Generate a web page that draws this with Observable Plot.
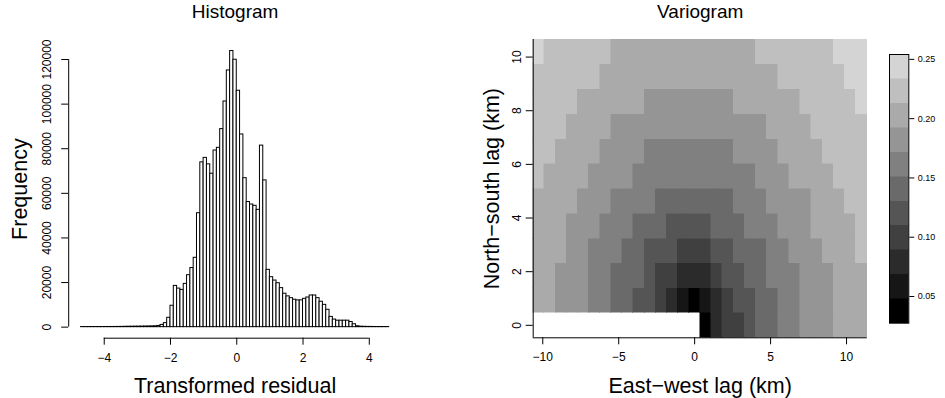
<!DOCTYPE html>
<html><head><meta charset="utf-8">
<script src="https://cdn.jsdelivr.net/npm/d3@7"></script>
<script src="https://cdn.jsdelivr.net/npm/@observablehq/plot@0.6"></script>
<style>
body{margin:0;background:#fff;}
#root{position:relative;width:945px;height:398px;}
#root svg{position:absolute;top:0;}
</style></head><body><div id="root"></div>
<script>
// ---------- Histogram data ----------
const histBinStart = -4.7;
const histBinWidth = 0.1;
const histCounts = [
  40,40,50,50,50,60,60,70,70,80,90,100,            // -4.7 .. -3.6
  120,150,180,200,220,230,250,280,300,330,380,     // -3.5 .. -2.5
  550,1000,1800,4200,9600,                          // -2.4 .. -2.0
  18500,17300,16700,19400,23300,26500,31100,51100,73900,75900, // -1.9 .. -1.0
  73000,68800,79200,80400,88800,101200,115100,123800,119900,   // -0.9 .. -0.1
  106000,86400,66800,56100,55000,54400,52600,81400,65800,25700, // 0.0 .. 0.9
  22400,20900,19700,17500,15000,13800,13000,12300,12000,12000,  // 1.0 .. 1.9
  12700,13300,14200,14200,13000,11400,10000,7800,4600,3400,     // 2.0 .. 2.9
  2900,2900,2900,2900,2300,1300,400,200,150,120,                // 3.0 .. 3.9
  100,80,70,60,50,40                                            // 4.0 .. 4.5
];
const histXTicks = [-4, -2, 0, 2, 4];
const histYTicks = [0, 20000, 40000, 60000, 80000, 100000, 120000];

// ---------- Variogram data ----------
const eastLags = [-10.26,-9.52,-8.79,-8.06,-7.33,-6.59,-5.86,-5.13,-4.40,-3.66,-2.93,-2.20,-1.47,-0.73,0,
                  0.73,1.47,2.20,2.93,3.66,4.40,5.13,5.86,6.59,7.33,8.06,8.79,9.52,10.26,10.99];
const northLags = [0,0.93,1.85,2.78,3.70,4.63,5.56,6.48,7.41,8.33,9.26,10.19];
const N = null;
const semivariance = [ // rows: north lag 0 (bottom) .. top; columns: east lags
  [N,N,N,N,N,N,N,N,N,N,N,N,N,N,N,.04,.08,.10,.10,.12,.14,.14,.16,.16,.18,.18,.18,.20,.20,.20],
  [.20,.20,.18,.18,.18,.16,.16,.14,.14,.12,.12,.10,.08,.06,.04,.06,.08,.10,.12,.12,.14,.14,.16,.16,.18,.18,.18,.20,.20,.20],
  [.20,.20,.18,.18,.18,.16,.16,.14,.14,.14,.12,.10,.10,.08,.08,.08,.10,.12,.12,.14,.14,.16,.16,.16,.18,.18,.18,.20,.20,.20],
  [.20,.20,.20,.18,.18,.16,.16,.16,.14,.14,.12,.12,.12,.10,.10,.10,.12,.12,.14,.14,.14,.16,.16,.18,.18,.18,.20,.20,.20,.22],
  [.20,.20,.20,.18,.18,.18,.16,.16,.16,.14,.14,.14,.12,.12,.12,.12,.14,.14,.14,.16,.16,.16,.18,.18,.18,.20,.20,.20,.20,.22],
  [.20,.20,.20,.20,.18,.18,.18,.16,.16,.16,.16,.14,.14,.14,.14,.14,.14,.14,.16,.16,.16,.18,.18,.18,.18,.20,.20,.20,.22,.22],
  [.22,.20,.20,.20,.20,.18,.18,.18,.18,.16,.16,.16,.16,.16,.16,.16,.16,.16,.16,.16,.18,.18,.18,.20,.20,.20,.20,.22,.22,.22],
  [.22,.22,.20,.20,.20,.20,.18,.18,.18,.18,.16,.16,.16,.16,.16,.16,.16,.16,.18,.18,.18,.18,.20,.20,.20,.20,.22,.22,.22,.22],
  [.22,.22,.22,.20,.20,.20,.20,.18,.18,.18,.18,.18,.18,.18,.18,.18,.18,.18,.18,.18,.18,.20,.20,.20,.20,.22,.22,.22,.22,.22],
  [.22,.22,.22,.22,.20,.20,.20,.20,.20,.20,.18,.18,.18,.18,.18,.18,.18,.18,.20,.20,.20,.20,.20,.20,.22,.22,.22,.22,.22,.24],
  [.22,.22,.22,.22,.22,.22,.20,.20,.20,.20,.20,.20,.20,.20,.20,.20,.20,.20,.20,.20,.20,.20,.22,.22,.22,.22,.22,.22,.24,.24],
  [.24,.22,.22,.22,.22,.22,.22,.20,.20,.20,.20,.20,.20,.20,.20,.20,.20,.20,.20,.20,.22,.22,.22,.22,.22,.22,.22,.24,.24,.24]
];
const varioXTicks = [-10, -5, 0, 5, 10];
const varioYTicks = [0, 2, 4, 6, 8, 10];
const zBreaks = [0.0275,0.0481,0.0687,0.0893,0.1099,0.1305,0.1511,0.1717,0.1923,0.2129,0.2335,0.2541];
const legendTicks = [0.05, 0.10, 0.15, 0.20, 0.25];
const grays = ["#000000","#161616","#2b2b2b","#404040","#555555","#6a6a6a","#808080","#959595","#aaaaaa","#bfbfbf","#d4d4d4"];

const FONT = "'Liberation Sans', Arial, Helvetica, sans-serif";
const style = {fontFamily: FONT, fontSize: "12px", background: "transparent", overflow: "visible"};
const root = document.getElementById("root");
function place(svg, left) { svg.style.left = left + "px"; root.appendChild(svg); }

// ---------- Histogram panel ----------
const histData = histCounts.map((c, i) => ({
  x1: histBinStart + i * histBinWidth,
  x2: histBinStart + (i + 1) * histBinWidth,
  count: c
}));
const hxMin = histBinStart, hxMax = histBinStart + histCounts.length * histBinWidth;
const hx = [hxMin - 0.04 * (hxMax - hxMin), hxMax + 0.04 * (hxMax - hxMin)];
const hMax = d3.max(histCounts);
const hy = [-0.04 * hMax, 1.04 * hMax];

const hist = Plot.plot({
  width: 472, height: 398,
  marginLeft: 68.2, marginRight: 71, marginTop: 39.5, marginBottom: 60.3,
  x: {domain: hx, axis: null},
  y: {domain: hy, axis: null},
  style,
  marks: [
    Plot.rect(histData, {x1: "x1", x2: "x2", y1: 0, y2: "count", fill: "white", stroke: "black", strokeWidth: 1}),
    Plot.ruleY([hy[0]], {x1: histXTicks[0], x2: histXTicks[histXTicks.length - 1], stroke: "black"}),
    Plot.ruleX([hx[0]], {y1: histYTicks[0], y2: histYTicks[histYTicks.length - 1], stroke: "black"}),
    Plot.axisX(histXTicks, {anchor: "bottom", tickSize: 7, tickPadding: 8, fontSize: 12, label: null}),
    Plot.axisY(histYTicks, {anchor: "left", tickSize: 7, tickFormat: () => "", label: null}),
    Plot.text(histYTicks, {y: d => d, text: d => String(d), frameAnchor: "left", dx: -17.5, rotate: -90,
      lineAnchor: "bottom", textAnchor: "middle", fontSize: 12}),
    Plot.text(["Frequency"], {frameAnchor: "left", dx: -42, rotate: -90, lineAnchor: "bottom", textAnchor: "middle", fontSize: 21.5}),
    Plot.text(["Transformed residual"], {frameAnchor: "bottom", dy: 55, lineAnchor: "bottom", textAnchor: "middle", fontSize: 21.5}),
    Plot.text(["Histogram"], {frameAnchor: "top", dy: -22.5, lineAnchor: "bottom", textAnchor: "middle", fontSize: 19})
  ]
});
place(hist, 0);

// ---------- Variogram panel ----------
const dxLag = eastLags[1] - eastLags[0];
const dyLag = northLags[1] - northLags[0];
const cells = [];
semivariance.forEach((row, j) => row.forEach((v, i) => {
  if (v != null) cells.push({
    x1: eastLags[i] - dxLag / 2, x2: eastLags[i] + dxLag / 2,
    y1: northLags[j] - dyLag / 2, y2: northLags[j] + dyLag / 2, v
  });
}));
const vx = [eastLags[0] - dxLag / 2, eastLags[eastLags.length - 1] + dxLag / 2];
const vy = [northLags[0] - dyLag / 2, northLags[northLags.length - 1] + dyLag / 2];
const colorScale = {type: "threshold", domain: zBreaks.slice(1, -1), range: grays};

const vario = Plot.plot({
  width: 408, height: 398,
  marginLeft: 60.7, marginRight: 13.3, marginTop: 39, marginBottom: 60.7,
  x: {domain: vx, axis: null},
  y: {domain: vy, axis: null},
  color: colorScale,
  style,
  marks: [
    Plot.rect(cells, {x1: "x1", x2: "x2", y1: "y1", y2: "y2", fill: "v", stroke: "v", strokeWidth: 0.5, shapeRendering: "crispEdges"}),
    Plot.ruleY([vy[0]], {stroke: "black"}),
    Plot.ruleX([vx[0]], {stroke: "black"}),
    Plot.axisX(varioXTicks, {anchor: "bottom", tickSize: 7, tickPadding: 8, fontSize: 12, label: null}),
    Plot.axisY(varioYTicks, {anchor: "left", tickSize: 7, tickFormat: () => "", label: null}),
    Plot.text(varioYTicks, {y: d => d, text: d => String(d), frameAnchor: "left", dx: -12.7, rotate: -90,
      lineAnchor: "bottom", textAnchor: "middle", fontSize: 12}),
    Plot.text(["North\u2212south lag (km)"], {frameAnchor: "left", dx: -34.4, rotate: -90, lineAnchor: "bottom", textAnchor: "middle", fontSize: 21.5}),
    Plot.text(["East\u2212west lag (km)"], {frameAnchor: "bottom", dy: 55.4, lineAnchor: "bottom", textAnchor: "middle", fontSize: 21.5}),
    Plot.text(["Variogram"], {frameAnchor: "top", dy: -22, lineAnchor: "bottom", textAnchor: "middle", fontSize: 19})
  ]
});
place(vario, 472);

// ---------- Colour bar ----------
const bands = zBreaks.slice(0, -1).map((b, i) => ({y1: b, y2: zBreaks[i + 1], mid: (b + zBreaks[i + 1]) / 2}));
const legend = Plot.plot({
  width: 65, height: 398,
  marginLeft: 9, marginRight: 36.7, marginTop: 54, marginBottom: 75.3,
  x: {domain: [0, 1], axis: null},
  y: {domain: [zBreaks[0], zBreaks[zBreaks.length - 1]], axis: null},
  color: colorScale,
  style,
  marks: [
    Plot.rect(bands, {x1: 0, x2: 1, y1: "y1", y2: "y2", fill: "mid", stroke: "mid", strokeWidth: 0.5, shapeRendering: "crispEdges"}),
    Plot.frame({stroke: "black"}),
    Plot.axisY(legendTicks, {anchor: "right", tickSize: 5, tickPadding: 4, fontSize: 9,
      tickFormat: d3.format(".2f"), label: null})
  ]
});
place(legend, 880);
</script></body></html>
